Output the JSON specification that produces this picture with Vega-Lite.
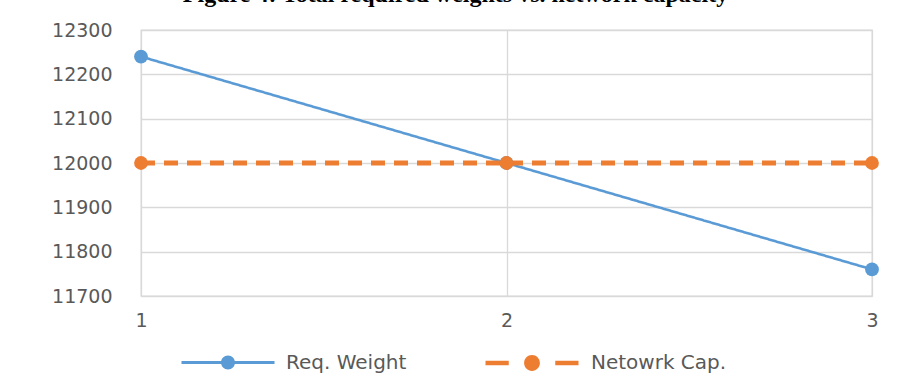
{
  "$schema": "https://vega.github.io/schema/vega-lite/v6.json",
  "width": 731,
  "height": 266,
  "autosize": {"type": "none"},
  "padding": {"left": 141, "top": 30, "right": 35, "bottom": 87},
  "background": "white",
  "title": {
    "text": "Figure 4: Total required weights vs. network capacity",
    "font": "Liberation Serif",
    "fontSize": 24,
    "fontWeight": "bold",
    "color": "#000000",
    "anchor": "middle",
    "frame": "group",
    "baseline": "alphabetic",
    "offset": 12,
    "dy": 17,
    "dx": -51
  },
  "config": {
    "view": {"stroke": "#d9d9d9", "strokeWidth": 1.3},
    "axis": {
      "labelFont": "DejaVu Sans",
      "labelFontSize": 19,
      "labelColor": "#595959",
      "gridColor": "#d9d9d9",
      "gridWidth": 1.3,
      "domain": false,
      "ticks": false,
      "labelFlush": false,
      "labelOverlap": false,
      "title": null
    }
  },
  "data": {
    "values": [
      {"step": 1, "series": "Req. Weight", "value": 12240},
      {"step": 2, "series": "Req. Weight", "value": 12000},
      {"step": 3, "series": "Req. Weight", "value": 11760},
      {"step": 1, "series": "Netowrk Cap.", "value": 12000},
      {"step": 2, "series": "Netowrk Cap.", "value": 12000},
      {"step": 3, "series": "Netowrk Cap.", "value": 12000}
    ]
  },
  "encoding": {
    "x": {
      "field": "step",
      "type": "ordinal",
      "scale": {"type": "point", "padding": 0},
      "axis": {"labelAngle": 0, "labelPadding": 15, "grid": true}
    },
    "y": {
      "field": "value",
      "type": "quantitative",
      "scale": {"domain": [11700, 12300], "nice": false, "zero": false},
      "axis": {
        "values": [11700, 11800, 11900, 12000, 12100, 12200, 12300],
        "format": "d",
        "labelPadding": 29,
        "grid": true
      }
    },
    "color": {
      "field": "series",
      "type": "nominal",
      "sort": ["Req. Weight", "Netowrk Cap."],
      "scale": {"domain": ["Req. Weight", "Netowrk Cap."], "range": ["#5b9bd5", "#ed7d31"]},
      "legend": {
        "title": null,
        "orient": "none",
        "direction": "horizontal",
        "legendX": 39,
        "legendY": 284,
        "labelFont": "DejaVu Sans",
        "labelFontSize": 20,
        "labelColor": "#595959",
        "labelOffset": 10,
        "columnPadding": 76,
        "symbolSize": 8649,
        "symbolType": "M-1,0L1,0",
        "encode": {
          "symbols": {
            "update": {
              "shape": {"signal": "datum.value === 'Netowrk Cap.' ? 'M-1,-0.05L-0.5,-0.05L-0.5,0.05L-1,0.05ZM0.5,-0.05L1,-0.05L1,0.05L0.5,0.05ZM-0.17,0C-0.17,-0.0939,-0.0939,-0.17,0,-0.17C0.0939,-0.17,0.17,-0.0939,0.17,0C0.17,0.0939,0.0939,0.17,0,0.17C-0.0939,0.17,-0.17,0.0939,-0.17,0Z' : 'M-1,-0.03L1,-0.03L1,0.03L-1,0.03ZM-0.15,0C-0.15,-0.0829,-0.0829,-0.15,0,-0.15C0.0829,-0.15,0.15,-0.0829,0.15,0C0.15,0.0829,0.0829,0.15,0,0.15C-0.0829,0.15,-0.15,0.0829,-0.15,0Z'"},
              "fill": {"scale": "color", "field": "value"},
              "stroke": {"value": "transparent"},
              "strokeWidth": {"value": 0},
              "strokeOpacity": {"value": 0},
              "opacity": {"value": 1},
              "fillOpacity": {"value": 1}
            }
          }
        }
      }
    }
  },
  "layer": [
    {
      "mark": {"type": "line"},
      "encoding": {
        "strokeDash": {
          "field": "series",
          "type": "nominal",
          "scale": {"domain": ["Req. Weight", "Netowrk Cap."], "range": [[1, 0], [14, 9]]},
          "legend": null
        },
        "strokeWidth": {
          "field": "series",
          "type": "nominal",
          "scale": {"domain": ["Req. Weight", "Netowrk Cap."], "range": [2.6, 4.8]},
          "legend": null
        }
      }
    },
    {
      "mark": {"type": "point", "filled": true, "size": 190, "opacity": 1}
    }
  ]
}
